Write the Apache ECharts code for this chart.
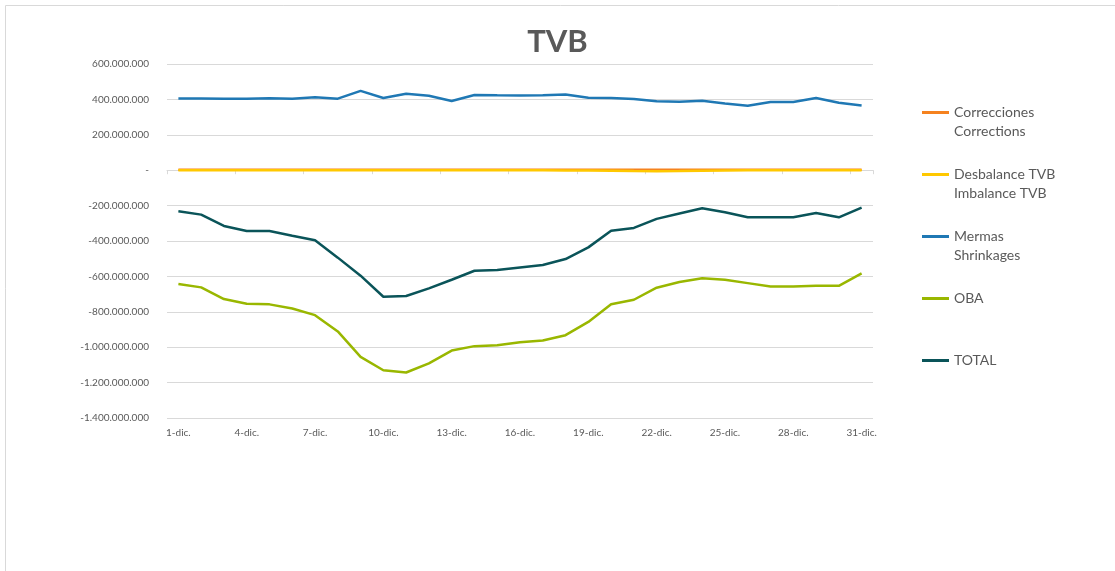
<!DOCTYPE html>
<html>
<head>
<meta charset="utf-8">
<title>TVB</title>
<script src="https://cdn.jsdelivr.net/npm/echarts@6/dist/echarts.min.js"></script>
<style>
  html, body { margin: 0; padding: 0; background: #fff; }
  #chart { width: 1115px; height: 571px; }
</style>
</head>
<body>
<div id="chart"></div>
<script>
// dias de diciembre
var days = [];
for (var d = 1; d <= 31; d++) days.push(d + '-dic.');

// valores en millones
var correcciones = [3, 3, 3, 3, 3, 3, 3, 3, 3, 3, 3, 3, 3, 3, 3, 3, 3, 3, 3, 3, 3, 3, 2, 2, 3, 3, 3, 3, 3, 3, 3];
var desbalance = [0, 0, 0, 0, 0, 0, 0, 0, 0, 0, 0, 0, 0, 0, 0, 0, 0, -1, -2, -3, -5, -6, -5, -3, -1, 0, 0, 0, 0, 0, 0];
var mermas = [405, 405, 404, 404, 407, 404, 412, 404, 448, 408, 432, 421, 391, 425, 423, 422,
    423, 428, 409, 408, 402, 389, 387, 392, 377, 364, 385, 385, 408, 381, 366];
var oba = [-643, -662, -728, -755, -758, -781, -819, -911, -1055, -1130, -1143, -1091, -1019, -994, -989, -972,
    -962, -932, -857, -757, -732, -664, -632, -611, -619, -638, -657, -657, -653, -653, -583];
var total = [-232, -251, -315, -343, -343, -370, -396, -494, -596, -715, -711, -668, -619, -568, -564, -550,
    -536, -502, -436, -342, -326, -275, -245, -215, -238, -266, -266, -266, -242, -266, -211];

var names = ['Correcciones\nCorrections', 'Desbalance TVB\nImbalance TVB', 'Mermas\nShrinkages', 'OBA', 'TOTAL'];
var colors = ['#f5821f', '#ffc800', '#1f78b4', '#99b700', '#0a5459'];
var values = [correcciones, desbalance, mermas, oba, total];

function fmt(v) {
    if (v === 0) return '-';
    var s = String(Math.abs(v * 1000000)).replace(/\B(?=(\d{3})+(?!\d))/g, '.');
    return (v < 0 ? '-' : '') + s;
}

var myChart = echarts.init(document.getElementById('chart'));
var option = {
    animation: false,
    color: colors,
    textStyle: {fontFamily: 'Lato'},
    graphic: [{
        type: 'rect',
        shape: {x: 5.5, y: 5.5, width: 1200, height: 700},
        style: {fill: 'none', stroke: '#d9d9d9', lineWidth: 1}
    }],
    title: {
        text: 'TVB',
        left: 'center',
        top: 21,
        textStyle: {fontSize: 31, fontWeight: 'bold', color: '#595959', fontFamily: 'Lato'}
    },
    legend: {
        orient: 'vertical',
        left: 922,
        top: 84,
        padding: 0,
        itemGap: 5,
        itemWidth: 27,
        itemHeight: 3,
        icon: 'rect',
        data: names,
        formatter: function (name) {
            return name.indexOf('\n') >= 0 ? '\n' + name : '\n' + name + '\n';
        },
        textStyle: {fontSize: 14, lineHeight: 19, color: '#595959', fontFamily: 'Lato'}
    },
    grid: {left: 167, right: 242, top: 64, bottom: 153},
    xAxis: [
        {
            type: 'category',
            data: days,
            position: 'bottom',
            axisLine: {show: false, onZero: false},
            axisTick: {show: false},
            axisLabel: {interval: 2, margin: 10, fontSize: 10, color: '#595959'}
        },
        {
            type: 'category',
            data: days,
            position: 'bottom',
            axisLine: {show: true, onZero: true, lineStyle: {color: '#d9d9d9', width: 1}},
            axisTick: {show: true, interval: 2, length: 4, lineStyle: {color: '#d9d9d9'}},
            axisLabel: {show: false}
        }
    ],
    yAxis: {
        type: 'value',
        min: -1400,
        max: 600,
        interval: 200,
        axisLine: {show: false},
        axisTick: {show: false},
        axisLabel: {formatter: fmt, margin: 18, fontSize: 10, color: '#595959'},
        splitLine: {lineStyle: {color: '#d9d9d9', width: 1}}
    },
    series: names.map(function (n, i) {
        return {
            name: n,
            type: 'line',
            data: values[i],
            showSymbol: false,
            symbol: 'none',
            lineStyle: {width: 2.5, color: colors[i]},
            itemStyle: {color: colors[i]}
        };
    })
};
myChart.setOption(option);
</script>
</body>
</html>
